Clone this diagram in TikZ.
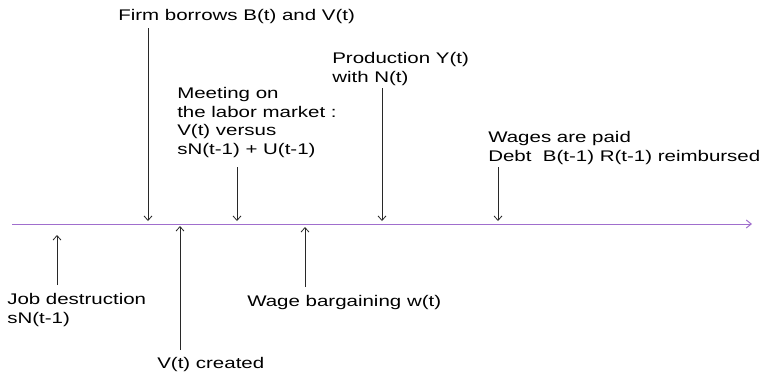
\documentclass[tikz,border=0pt]{standalone}
\usepackage{fontspec}
\setmainfont{Liberation Sans}
\usetikzlibrary{arrows.meta}
\definecolor{tline}{RGB}{160,110,205}
\definecolor{evtcol}{RGB}{40,40,40}
\begin{document}
\begin{tikzpicture}[x=1pt,y=-1pt,
  lbl/.style={anchor=north west,inner sep=0pt,align=left,xscale=1.33,
    font=\fontsize{15.4}{18.7}\selectfont},
  evt/.style={draw=evtcol,line width=0.8pt,-{Straight Barb[length=4.5pt,width=8pt]}},
  axis/.style={draw=tline,line width=1pt,-{Straight Barb[length=5pt,width=8pt]}}]
\useasboundingbox (0,0) rectangle (765,373);
% timeline
\coordinate (t0) at (12,224);
\coordinate (t1) at (752,224);
\draw[axis] (t0) -- (t1);
% labels
\node[lbl] (firm) at (118,9) {Firm borrows B(t) and V(t)};
\node[lbl] (meet) at (177,87) {Meeting on\\the labor market :\\V(t) versus\\sN(t-1) + U(t-1)};
\node[lbl] (prod) at (332,52) {Production Y(t)\\with N(t)};
\node[lbl] (wages) at (488,131) {Wages are paid\\Debt\ \ B(t-1) R(t-1) reimbursed};
\node[lbl] (job) at (7,293) {Job destruction\\sN(t-1)};
\node[lbl] (vcr) at (157,357) {V(t) created};
\node[lbl] (wb) at (247,295) {Wage bargaining w(t)};
% arrow ends
\coordinate (firmS) at (148,28);  \coordinate (firmE) at (148,221);
\coordinate (meetS) at (237,167); \coordinate (meetE) at (237,221);
\coordinate (prodS) at (382,88);  \coordinate (prodE) at (382,221);
\coordinate (wagS) at (498,167);  \coordinate (wagE) at (498,221);
\coordinate (jobS) at (57,285);   \coordinate (jobE) at (57,235);
\coordinate (vcrS) at (180,350);  \coordinate (vcrE) at (180,226);
\coordinate (wbS) at (305,287);   \coordinate (wbE) at (305,227);
\draw[evt] (firmS) -- (firmE);
\draw[evt] (meetS) -- (meetE);
\draw[evt] (prodS) -- (prodE);
\draw[evt] (wagS) -- (wagE);
\draw[evt] (jobS) -- (jobE);
\draw[evt] (vcrS) -- (vcrE);
\draw[evt] (wbS) -- (wbE);
\end{tikzpicture}
\end{document}
